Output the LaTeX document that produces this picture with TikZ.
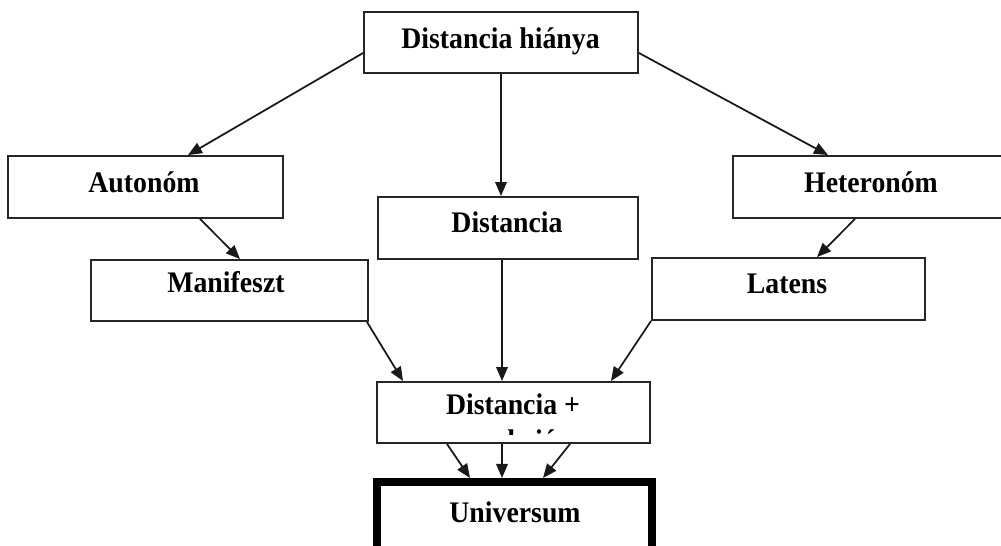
\documentclass[tikz,border=0pt]{standalone}
\usepackage{fontspec}
\setmainfont{Liberation Serif}[FakeStretch=0.93]
\usetikzlibrary{arrows.meta,calc}
\begin{document}
\begin{tikzpicture}[x=0.02cm,y=-0.02cm,
  box/.style={draw=black!85,line width=1.1pt,inner sep=0pt,fill=none},
  thickbox/.style={draw=black,line width=4.6pt,inner sep=0pt},
  lbl/.style={anchor=base,inner sep=0pt,font=\fontsize{17}{20}\selectfont\bfseries},
  arr/.style={draw=black!90,line width=1pt,-{Triangle[length=0.28cm,width=0.23cm]}}]
\useasboundingbox (0,0) rectangle (1001,545);
\fill[white] (0,0) rectangle (1001,545);
% boxes
\node[box,minimum width=274*0.02cm,minimum height=61*0.02cm] (top) at (501,42.5) {};
\node[box,minimum width=275*0.02cm,minimum height=62*0.02cm] (auto) at (145.5,187) {};
\node[box,minimum width=260*0.02cm,minimum height=62*0.02cm] (dist) at (508,228) {};
\node[box,minimum width=276*0.02cm,minimum height=62*0.02cm] (hetero) at (871,187) {};
\node[box,minimum width=277*0.02cm,minimum height=61*0.02cm] (manif) at (229.5,290.5) {};
\node[box,minimum width=273*0.02cm,minimum height=62*0.02cm] (latens) at (788.5,289) {};
\node[box,minimum width=273*0.02cm,minimum height=61*0.02cm] (dplus) at (513.5,412.5) {};
\node[thickbox,minimum width=275*0.02cm,minimum height=68*0.02cm] (univ) at (514.5,516) {};
% texts
\node[lbl] (ttop) at (500.5,48) {Distancia hiánya};
\node[lbl] (tauto) at (144,192) {Autonóm};
\node[lbl] (thetero) at (871,192) {Heteronóm};
\node[lbl] (tdist) at (507,232) {Distancia};
\node[lbl] (tmanif) at (226,292) {Manifeszt};
\node[lbl] (tlatens) at (787,293) {Latens};
\node[lbl] (tdplus) at (513,414) {Distancia +};
\begin{scope}
\clip (377,382) rectangle (650,434);
\node[lbl] (tdplus2) at (513,450) {reakció};
\end{scope}
\node[lbl] (tuniv) at (515,522) {Universum};
% arrows
\draw[arr] ($(top.west)+(0,10.5)$) -- ($(auto.north)+(42.5,0)$);
\draw[arr] ($(top.east)+(0,10.5)$) -- ($(hetero.north)+(-43,0)$);
\draw[arr] (top.south) -- (top.south |- dist.north);
\draw[arr] ($(auto.south)+(54.5,0)$) -- ($(manif.north)+(10.5,0)$);
\draw[arr] ($(hetero.south)+(-16,0)$) -- ($(latens.north)+(28.5,0)$);
\draw[arr] ($(manif.south east)+(-2,0)$) -- ($(dplus.north west)+(27,0)$);
\draw[arr] ($(dist.south)+(-6,0)$) -- ($(dplus.north)+(-11.5,0)$);
\draw[arr] (latens.south west) -- ($(dplus.north east)+(-40,0)$);
\draw[arr] ($(dplus.south)+(-66.5,0)$) -- ($(univ.north)+(-44.5,0)$);
\draw[arr] ($(dplus.south)+(-11.5,0)$) -- ($(univ.north)+(-12.5,0)$);
\draw[arr] ($(dplus.south)+(56.5,0)$) -- ($(univ.north)+(28.5,0)$);
\end{tikzpicture}
\end{document}
